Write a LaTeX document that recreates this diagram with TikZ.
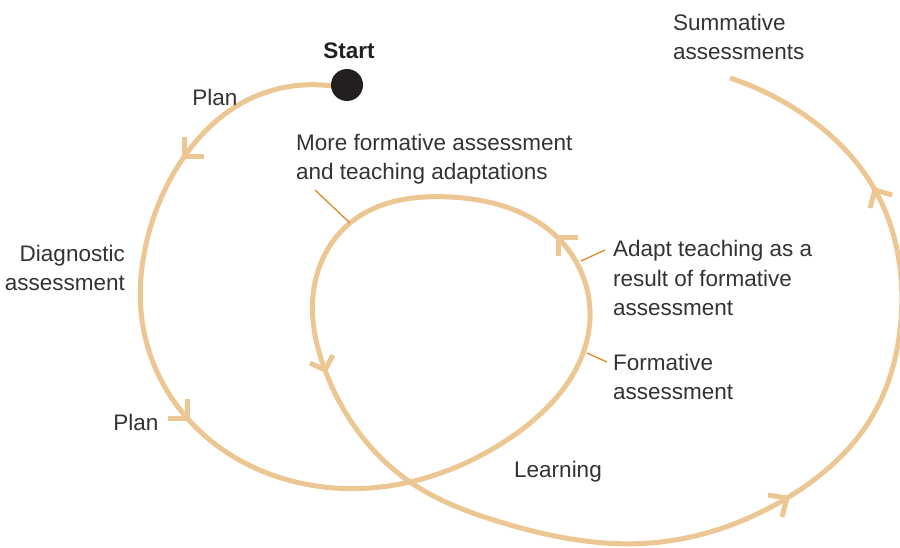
\documentclass[tikz,border=0pt]{standalone}
\usepackage{fontspec}
\setmainfont{Liberation Sans}
\usetikzlibrary{hobby}
\definecolor{trailtan}{HTML}{EDC793}
\definecolor{tickorange}{HTML}{D98A2B}
\definecolor{inkgrey}{HTML}{333333}
\definecolor{dotblack}{HTML}{231F20}

\begin{document}
\begin{tikzpicture}
  [x=1pt, y=-1pt,
   trail/.style={draw=trailtan, line width=5pt},
   tick/.style={draw=tickorange, line width=1.3pt},
   label/.style={text=inkgrey, inner sep=0pt, align=left, font=\fontsize{22.5}{29.5}\selectfont}]
  \useasboundingbox (0,0) rectangle (900,548);
  \clip (0,0) rectangle (900,548);

  % where the arrow heads sit on the spiral
  \coordinate (plantop) at (184,157);
  \coordinate (planbottom) at (187,418);
  \coordinate (adapt) at (558,238);
  \coordinate (reteach) at (325,370);
  \coordinate (learn) at (787,498);
  \coordinate (summ) at (875,190);

  % leader line ends
  \coordinate (moreend) at (315,190);
  \coordinate (moreon) at (350,223);
  \coordinate (adaptend) at (605,250);
  \coordinate (adapton) at (581,261);
  \coordinate (formend) at (607,362);
  \coordinate (formon) at (587,353);

  % the spiral
  \draw[trail, use Hobby shortcut] (338,87) .. (240,104) .. (plantop) .. (147,240)
    .. (142,320) .. (planbottom) .. (300,483) .. (410,482) .. (507,440)
    .. (590,318) .. (adapt) .. (450,197) .. (moreon) .. (313,295)
    .. (reteach) .. (410,482) .. (500,522) .. (650,543) .. (learn) .. (870,420)
    .. (901,320) .. (summ) .. (797,110) .. (730,78);

  % arrow heads
  \draw[trail] (plantop) ++(0,-20) -- (plantop) -- ++(20,0);
  \draw[trail] (planbottom) ++(0,-19) -- (planbottom) -- ++(-19,0);
  \draw[trail] (adapt) ++(0,18) -- (adapt) -- ++(20,0);
  \draw[trail] (reteach) ++(8,-15) -- (reteach) -- ++(-15,-7);
  \draw[trail] (learn) ++(-19,-3) -- (learn) -- ++(-5,19);
  \draw[trail] (summ) ++(17,5) -- (summ) -- ++(-5,18);

  \node[circle, fill=dotblack, minimum size=32pt, inner sep=0pt] (start) at (347,85) {};
  \node[label, font=\fontsize{22.5}{29.5}\selectfont\bfseries, text=dotblack] (startlabel) at (349,51) {Start};

  \node[label] (plan1) at (215,97) {Plan};
  \node[label, anchor=east, align=right] (diag) at (125,268) {Diagnostic\\assessment};
  \node[label] (plan2) at (136,422) {Plan};
  \node[label, anchor=west] (more) at (296,159) {More formative assessment\\and teaching adaptations};
  \node[label, anchor=west] (adapttext) at (613,278) {Adapt teaching as a\\result of formative\\assessment};
  \node[label, anchor=west] (formative) at (613,377) {Formative\\assessment};
  \node[label] (learning) at (558,472) {Learning};
  \node[label, anchor=west] (summative) at (673,37) {Summative\\assessments};

  % leader lines
  \draw[tick] (moreend) -- (moreon);
  \draw[tick] (adaptend) -- (adapton);
  \draw[tick] (formend) -- (formon);
\end{tikzpicture}
\end{document}
